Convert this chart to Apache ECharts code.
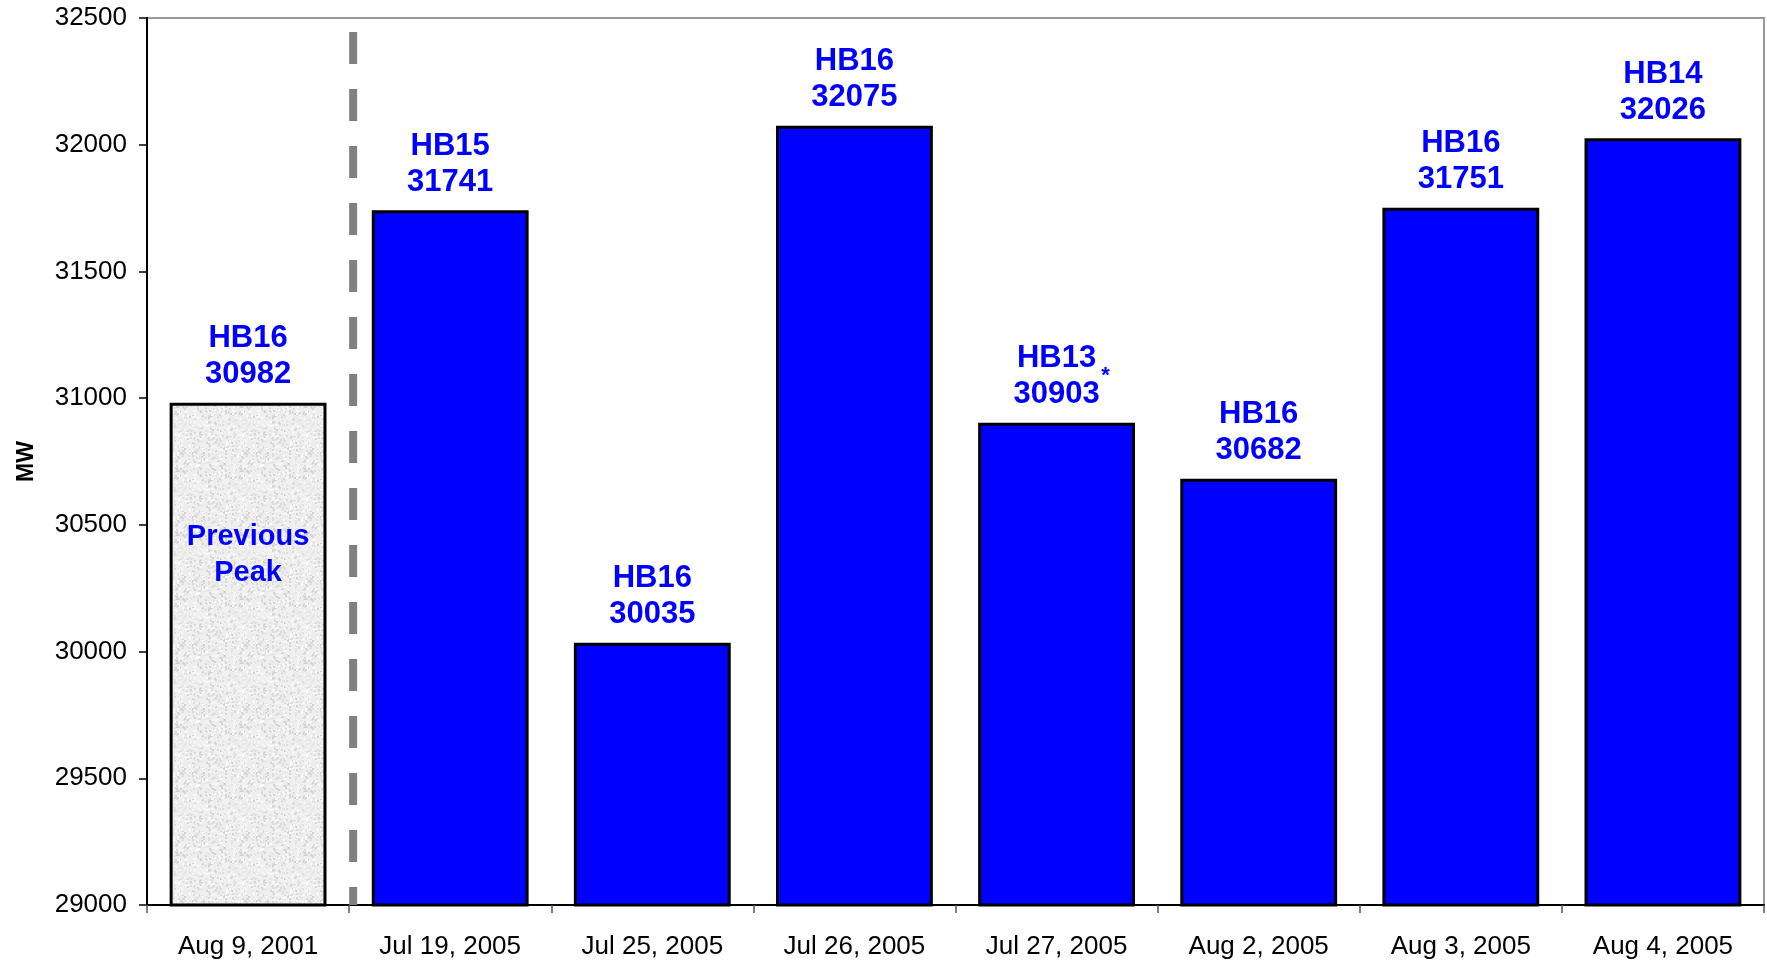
<!DOCTYPE html>
<html>
<head>
<meta charset="utf-8">
<script src="https://cdn.jsdelivr.net/npm/echarts@6/dist/echarts.min.js"></script>
<style>
  html, body { margin: 0; padding: 0; background: #fff; }
  #main { width: 1767px; height: 963px; }
</style>
</head>
<body>
<div id="main"></div>
<script>
var categories = ['Aug 9, 2001', 'Jul 19, 2005', 'Jul 25, 2005', 'Jul 26, 2005', 'Jul 27, 2005', 'Aug 2, 2005', 'Aug 3, 2005', 'Aug 4, 2005'];
var peakValues = [30982, 31741, 30035, 32075, 30903, 30682, 31751, 32026];
var hourBlocks = ['HB16', 'HB15', 'HB16', 'HB16', 'HB13', 'HB16', 'HB16', 'HB14'];
var yTicks = { min: 29000, max: 32500, interval: 500 };
var noteLabels = [
  { index: 0, value: 30380, text: 'Previous\nPeak' }
];
var asteriskIndex = 4;

var chart = echarts.init(document.getElementById('main'));
var FONT = '"Liberation Sans", Arial, sans-serif';
var BLUE = '#0000ff';

// grey speckled texture for the previous-peak bar (deterministic noise)
function makeTexture(){
	var c = document.createElement('canvas');
	c.width = 64; c.height = 64;
	var ctx = c.getContext('2d');
	ctx.fillStyle = '#efefef';
	ctx.fillRect(0, 0, 64, 64);
	var seed = 12345;
	function rnd(){ seed = (seed * 1103515245 + 12345) & 0x7fffffff; return seed / 0x7fffffff; }
	for(var i = 0; i < 700; i++){
		var g = 210 + Math.floor(rnd() * 45);
		ctx.fillStyle = 'rgb(' + g + ',' + g + ',' + g + ')';
		ctx.fillRect(Math.floor(rnd() * 64), Math.floor(rnd() * 64), 2, 2);
	}
	return c;
}

var barData = [];
for(var i = 0; i < peakValues.length; i++){
	var item = { value: peakValues[i] };
	if(i === 0){
		item.itemStyle = { color: { image: makeTexture(), repeat: 'repeat' } };
	}
	barData.push(item);
}

var notePoints = [];
for(var j = 0; j < noteLabels.length; j++){
	notePoints.push({
		coord: [noteLabels[j].index, noteLabels[j].value],
		label: { formatter: noteLabels[j].text }
	});
}
notePoints.push({
	coord: [asteriskIndex, peakValues[asteriskIndex]],
	label: { formatter: '*', fontSize: 22, offset: [49, -47], lineHeight: 22 }
});

var option = {
	animation: false,
	grid: {
		left: 147,
		right: 3,
		top: 18,
		bottom: 58,
		outerBoundsMode: 'none',
		containLabel: false,
		show: true,
		borderColor: '#999',
		borderWidth: 2
	},
	xAxis: {
		type: 'category',
		data: categories,
		axisLine: { lineStyle: { color: '#000', width: 2 } },
		axisTick: { show: true, length: 8, lineStyle: { color: '#555', width: 1.5 } },
		axisLabel: { color: '#000', fontSize: 26, fontFamily: FONT, margin: 29 }
	},
	yAxis: {
		type: 'value',
		min: yTicks.min,
		max: yTicks.max,
		interval: yTicks.interval,
		name: 'MW',
		nameLocation: 'middle',
		nameRotate: 90,
		nameGap: 109,
		nameTextStyle: { color: '#000', fontSize: 23, fontWeight: 'bold', fontFamily: FONT },
		splitLine: { show: false },
		axisLine: { show: true, lineStyle: { color: '#000', width: 2 } },
		axisTick: { show: true, length: 8, lineStyle: { color: '#000', width: 1.5 } },
		axisLabel: {
			color: '#000', fontSize: 26, fontFamily: FONT, margin: 20,
			formatter: function(v){ return String(v); }
		}
	},
	series: [
		{
			name: 'Peak',
			type: 'bar',
			data: barData,
			barWidth: '77.6%',
			itemStyle: { color: BLUE, borderColor: '#000', borderWidth: 3 },
			label: {
				show: true,
				position: 'top',
				distance: 10,
				color: BLUE,
				fontSize: 31,
				fontWeight: 'bold',
				fontFamily: FONT,
				lineHeight: 36,
				formatter: function(p){
					return hourBlocks[p.dataIndex] + '\n' + p.value;
				}
			},
			markPoint: {
				symbol: 'rect',
				symbolSize: 0,
				silent: true,
				itemStyle: { color: 'rgba(0,0,0,0)' },
				label: {
					show: true,
					position: 'inside',
					color: BLUE,
					opacity: 1,
					fontSize: 29,
					fontWeight: 'bold',
					fontFamily: FONT,
					lineHeight: 36
				},
				data: notePoints
			}
		}
	]
};
chart.setOption(option);

// dashed divider between the previous peak and the 2005 days
var p0 = chart.convertToPixel({ xAxisIndex: 0 }, 0);
var p1 = chart.convertToPixel({ xAxisIndex: 0 }, 1);
var xDiv = (p0 + p1) / 2 + 4;
var yTop = chart.convertToPixel({ yAxisIndex: 0 }, 32445);
var yBot = chart.convertToPixel({ yAxisIndex: 0 }, yTicks.min);
chart.setOption({
	graphic: [{
		type: 'line',
		shape: { x1: xDiv, y1: yTop, x2: xDiv, y2: yBot },
		style: { stroke: '#808080', lineWidth: 8, lineDash: [32, 25] },
		z: 10
	}]
});
</script>
</body>
</html>
